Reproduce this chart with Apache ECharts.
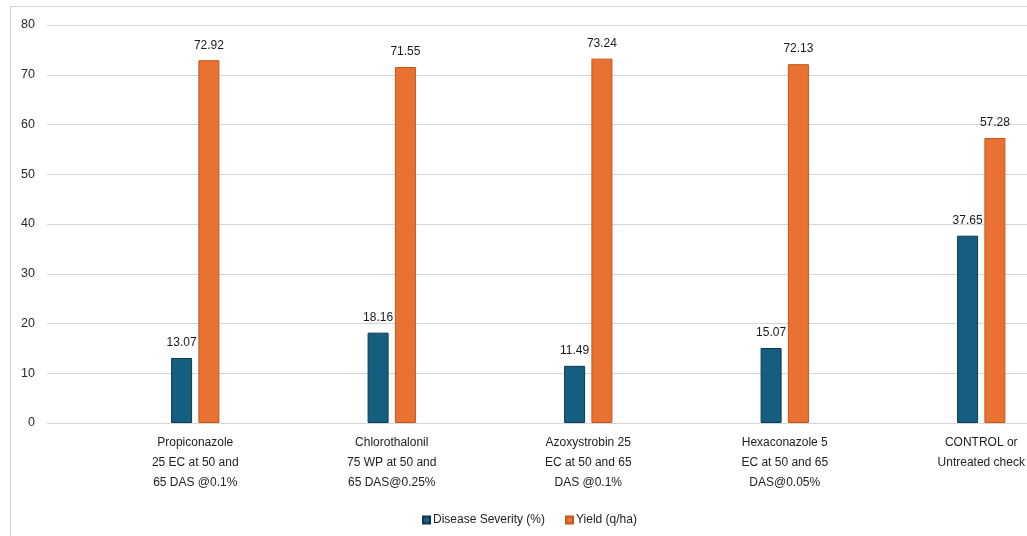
<!DOCTYPE html>
<html>
<head>
<meta charset="utf-8">
<script src="https://cdn.jsdelivr.net/npm/echarts@6/dist/echarts.min.js"></script>
<style>
  html, body { margin: 0; padding: 0; background: #fff; }
  #chart { width: 1027px; height: 536px; }
</style>
</head>
<body>
<div id="chart"></div>
<script>
// Fungicide treatments compared on disease severity and grain yield
const categories = [
  'Propiconazole\n25 EC at 50 and\n65 DAS @0.1%',
  'Chlorothalonil\n75 WP at 50 and\n65 DAS@0.25%',
  'Azoxystrobin 25\nEC at 50 and 65\nDAS @0.1%',
  'Hexaconazole 5\nEC at 50 and 65\nDAS@0.05%',
  'CONTROL or\nUntreated check'
];
const diseaseSeverity = [13.07, 18.16, 11.49, 15.07, 37.65];
const yieldQha = [72.92, 71.55, 73.24, 72.13, 57.28];
const seriesNames = ['Disease Severity (%)', 'Yield (q/ha)'];
const yMin = 0, yMax = 80, yStep = 10;

const FONT = '"Liberation Sans", Arial, sans-serif';
const TOP = 25, HEIGHT = 398;

const chart = echarts.init(document.getElementById('chart'), null, { renderer: 'canvas' });

chart.setOption({
  animation: false,
  textStyle: { fontFamily: FONT },
  graphic: [{
    type: 'rect',
    shape: { x: 10.5, y: 6.5, width: 1200, height: 700 },
    style: { fill: 'none', stroke: '#d4d4d4', lineWidth: 1 },
    silent: true
  }],
  legend: {
    data: seriesNames,
    left: 417,
    top: 509,
    itemWidth: 7,
    itemHeight: 7,
    itemGap: 20,
    icon: 'rect',
    textStyle: { fontFamily: FONT, fontSize: 12, color: '#222', padding: [0, 0, 0, -2] }
  },
  grid: [
    // value-axis frame carrying the gridlines and tick labels
    { left: 47, width: 1040, top: TOP, height: HEIGHT, containLabel: false, outerBoundsMode: 'none' },
    // category band where the bars sit (extends past the right edge)
    { left: 97, width: 982.5, top: TOP, height: HEIGHT, containLabel: false, outerBoundsMode: 'none' }
  ],
  xAxis: [
    { gridIndex: 0, type: 'value', min: 0, max: 1, show: false },
    {
      gridIndex: 1,
      type: 'category',
      data: categories,
      axisLine: { show: false },
      axisTick: { show: false },
      axisLabel: {
        interval: 0,
        margin: 10,
        fontFamily: FONT,
        fontSize: 12,
        lineHeight: 20,
        color: '#222',
        align: 'center'
      }
    }
  ],
  yAxis: [
    {
      gridIndex: 0,
      type: 'value',
      min: yMin, max: yMax, interval: yStep,
      axisLine: { show: false },
      axisTick: { show: false },
      axisLabel: { margin: 12, fontFamily: FONT, fontSize: 12.5, color: '#2a2a2a' },
      splitLine: { lineStyle: { color: '#d6d6d6', width: 1 } }
    },
    {
      gridIndex: 1,
      type: 'value',
      min: yMin, max: yMax, interval: yStep,
      show: false,
      splitLine: { show: false }
    }
  ],
  series: [
    {
      name: seriesNames[0],
      type: 'bar',
      xAxisIndex: 1, yAxisIndex: 1,
      data: diseaseSeverity,
      barWidth: 21,
      barGap: '30%',
      itemStyle: { color: '#165E80', borderColor: '#0C3A52', borderWidth: 1 },
      label: {
        show: true, position: 'top', distance: 9,
        fontFamily: FONT, fontSize: 12, color: '#1a1a1a',
        formatter: p => p.value.toFixed(2)
      }
    },
    {
      name: seriesNames[1],
      type: 'bar',
      xAxisIndex: 1, yAxisIndex: 1,
      data: yieldQha,
      barWidth: 21,
      barGap: '30%',
      itemStyle: { color: '#E97132', borderColor: '#C4561C', borderWidth: 1 },
      label: {
        show: true, position: 'top', distance: 9,
        fontFamily: FONT, fontSize: 12, color: '#1a1a1a',
        formatter: p => p.value.toFixed(2)
      }
    }
  ]
});
</script>
</body>
</html>
